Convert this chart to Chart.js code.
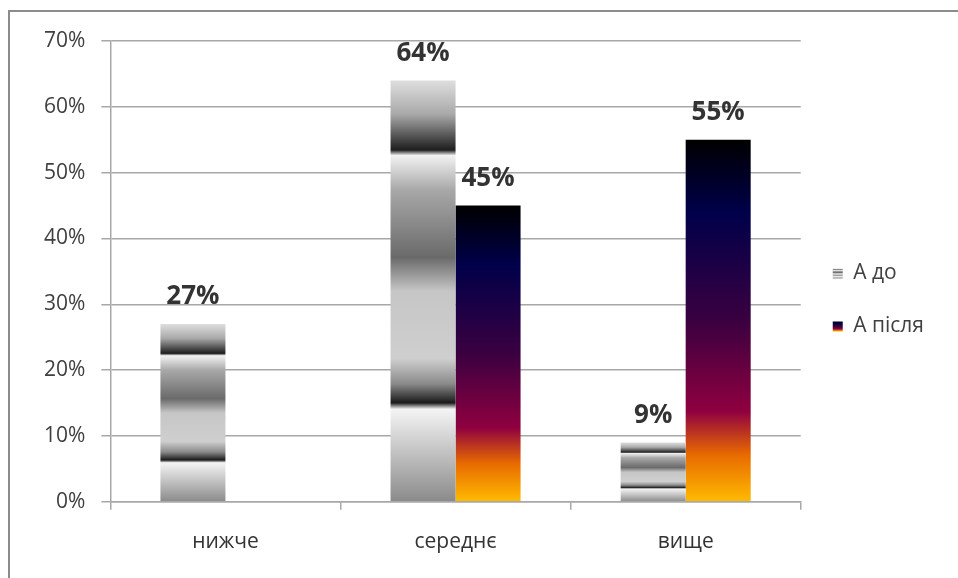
<!DOCTYPE html>
<html lang="uk">
<head>
<meta charset="utf-8">
<title>А до / А після</title>
<script src="https://cdn.jsdelivr.net/npm/chart.js@4.4.1/dist/chart.umd.min.js"></script>
<style>
  html, body { margin: 0; padding: 0; background: #fff; }
  #wrap { position: relative; width: 958px; height: 578px; }
</style>
</head>
<body>
<div id="wrap"><canvas id="chart" width="958" height="578"></canvas></div>
<script>
const categories = ["нижче", "середнє", "вище"];
const seriesNames = ["А до", "А після"];
const valuesBefore = [27, 64, 9];
const valuesAfter = [null, 45, 55];
const yMax = 70;
const yStep = 10;

// colour stops along a bar: 0 is its top, 1 its base
const chromeStops = [
  [0.0, "#dedede"], [0.08, "#a9a9a9"], [0.165, "#1e1e1e"], [0.178, "#f2f2f2"],
  [0.26, "#a8a8a8"], [0.42, "#6a6a6a"], [0.5, "#c6c6c6"], [0.66, "#cfcfcf"],
  [0.72, "#8a8a8a"], [0.765, "#1a1a1a"], [0.78, "#f4f4f4"], [1.0, "#8a8a8a"],
];
const sunsetStops = [
  [0.0, "#000000"], [0.2, "#00004a"], [0.5, "#3a0040"], [0.75, "#8f0040"],
  [0.87, "#e86a00"], [1.0, "#ffbb00"],
];

const FONT = '"Open Sans", "DejaVu Sans", sans-serif';
const GRID = "#a8a8a8";

function fillGradient(c, top, base, stops) {
  const g = c.createLinearGradient(0, top, 0, base);
  stops.forEach(([t, col]) => g.addColorStop(t, col));
  return g;
}

// each bar gets its own gradient stretched over its height
function barFill(stops) {
  return (ctx) => {
    const chart = ctx.chart;
    const y = chart.scales && chart.scales.y;
    if (!y || !chart.chartArea || ctx.raw == null) return stops[stops.length - 1][1];
    return fillGradient(chart.ctx, y.getPixelForValue(ctx.raw), y.getPixelForValue(0), stops);
  };
}

const frame = {
  id: "frame",
  beforeDraw(chart) {
    const c = chart.ctx;
    c.save();
    c.strokeStyle = "#8c8c8c";
    c.lineWidth = 2;
    c.beginPath();
    c.moveTo(9, chart.height);
    c.lineTo(9, 11);
    c.lineTo(chart.width, 11);
    c.stroke();
    c.restore();
  },
};

// lift the legend a little above the middle of the plot
const legendNudge = {
  id: "legendNudge",
  afterLayout(chart) {
    if (!chart.legend) return;
    chart.legend.top -= 8;
    chart.legend.bottom -= 8;
  },
};

const valueLabels = {
  id: "valueLabels",
  afterDatasetsDraw(chart) {
    const c = chart.ctx;
    c.save();
    c.font = "bold 26px " + FONT;
    c.fillStyle = "#333333";
    c.textAlign = "center";
    c.textBaseline = "bottom";
    chart.data.datasets.forEach((ds, i) => {
      chart.getDatasetMeta(i).data.forEach((bar, j) => {
        const v = ds.data[j];
        if (v == null) return;
        c.fillText(v + "%", bar.x, bar.y - 14);
      });
    });
    c.restore();
  },
};

// legend swatches use the same gradients as the bars
const legendSwatch = {
  id: "legendSwatch",
  afterDraw(chart) {
    const boxes = chart.legend && chart.legend.legendHitBoxes;
    if (!boxes) return;
    const c = chart.ctx;
    [chromeStops, sunsetStops].forEach((stops, i) => {
      const hb = boxes[i];
      if (!hb) return;
      const top = hb.top + hb.height / 2 - 5;
      c.fillStyle = fillGradient(c, top, top + 10, stops);
      c.fillRect(hb.left, top, 10, 10);
    });
  },
};

new Chart(document.getElementById("chart"), {
  type: "bar",
  data: {
    labels: categories,
    datasets: [
      { label: seriesNames[0], data: valuesBefore, backgroundColor: barFill(chromeStops) },
      { label: seriesNames[1], data: valuesAfter, backgroundColor: barFill(sunsetStops) },
    ],
  },
  options: {
    responsive: false,
    animation: false,
    datasets: { bar: { categoryPercentage: 0.565, barPercentage: 1 } },
    layout: { padding: { left: 28, top: 41, right: 24, bottom: 3 } },
    plugins: {
      tooltip: { enabled: false },
      legend: {
        position: "right",
        labels: {
          font: { family: FONT, size: 21 },
          color: "#404040",
          boxWidth: 10,
          boxHeight: 10,
          padding: 32,
          generateLabels: (chart) =>
            chart.data.datasets.map((ds, i) => ({
              text: ds.label,
              datasetIndex: i,
              fillStyle: "rgba(0,0,0,0)",
              strokeStyle: "rgba(0,0,0,0)",
              lineWidth: 0,
              fontColor: "#404040",
            })),
        },
      },
    },
    scales: {
      x: {
        grid: { drawOnChartArea: false, color: GRID, lineWidth: 1.5, tickLength: 8 },
        border: { color: GRID, width: 1.5 },
        ticks: { font: { family: FONT, size: 21 }, color: "#333333", padding: 20 },
      },
      y: {
        min: 0,
        max: yMax,
        grid: { color: GRID, lineWidth: 1.5, tickLength: 9 },
        border: { color: GRID, width: 1.5 },
        ticks: {
          stepSize: yStep,
          font: { family: FONT, size: 21 },
          color: "#404040",
          padding: 16,
          callback: (v) => v + "%",
        },
      },
    },
  },
  plugins: [frame, legendNudge, valueLabels, legendSwatch],
});
</script>
</body>
</html>
